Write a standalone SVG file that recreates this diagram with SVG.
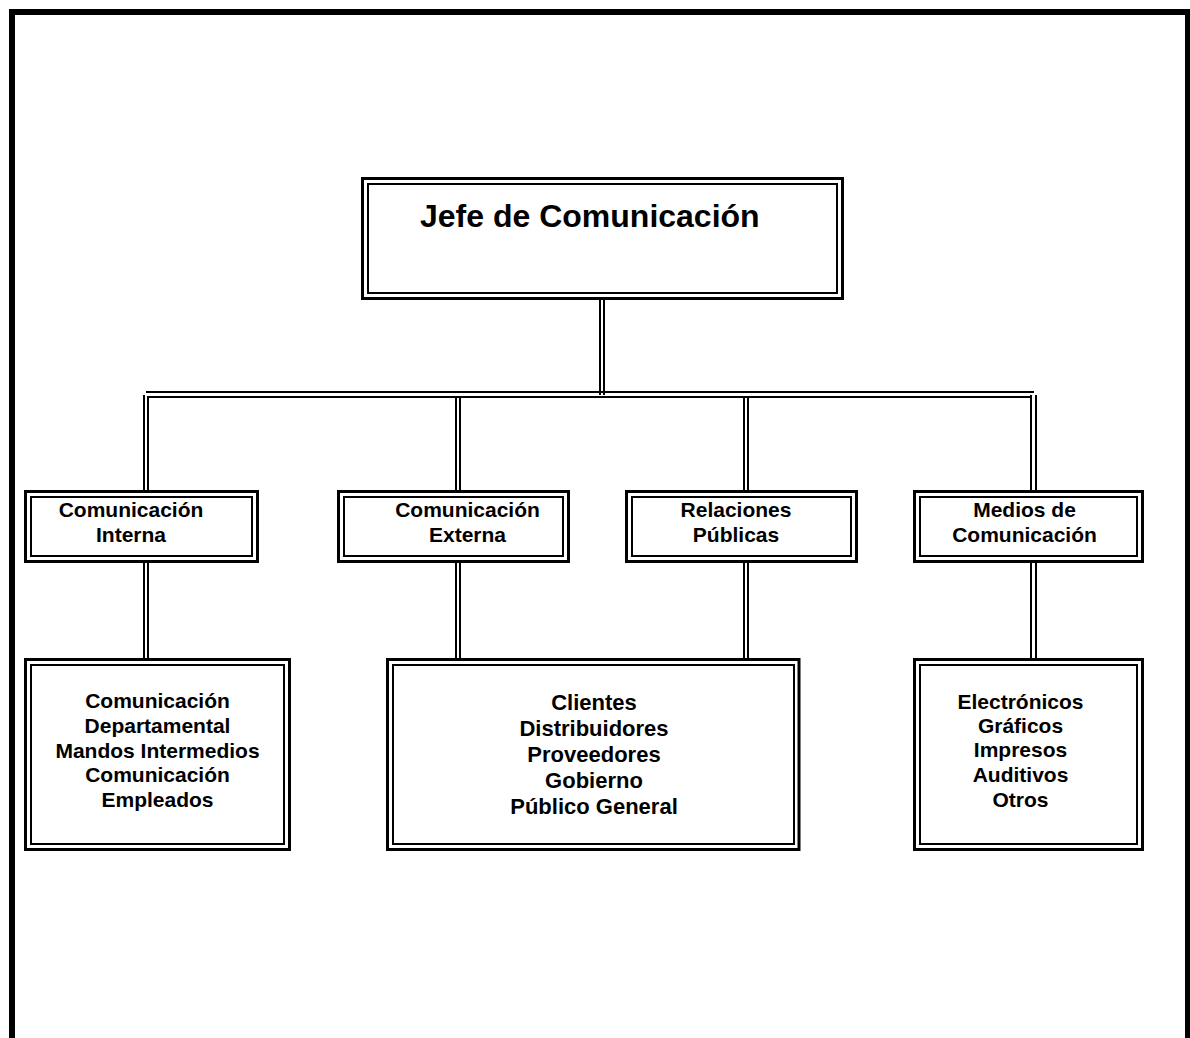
<svg xmlns="http://www.w3.org/2000/svg" width="1190" height="1038" viewBox="0 0 1190 1038">
<style>
.o{fill:none;stroke:#000;stroke-width:3}
.i{fill:none;stroke:#000;stroke-width:2}
.c line{stroke:#000;stroke-width:2}
text{font-family:"Liberation Sans",Arial,sans-serif;font-weight:bold;fill:#000;text-anchor:middle}
.s{font-size:21px}
.m{font-size:22px}
.t{font-size:32px;text-anchor:start}
</style>
<rect width="1190" height="1038" fill="#fff"/>
<path d="M12,1045 V12 H1188 V1045" fill="none" stroke="#000" stroke-width="6"/>
<g class="c" id="connectors">
<line x1="600" y1="298" x2="600" y2="395"/>
<line x1="604" y1="298" x2="604" y2="395"/>
<line x1="146" y1="392" x2="1034" y2="392"/>
<line x1="148" y1="397" x2="1031" y2="397"/>
<line x1="144" y1="395" x2="144" y2="491"/>
<line x1="148" y1="396" x2="148" y2="491"/>
<line x1="456" y1="396" x2="456" y2="491"/>
<line x1="460" y1="396" x2="460" y2="491"/>
<line x1="744" y1="396" x2="744" y2="491"/>
<line x1="748" y1="396" x2="748" y2="491"/>
<line x1="1031" y1="395" x2="1031" y2="491"/>
<line x1="1036" y1="395" x2="1036" y2="491"/>
<line x1="144" y1="562" x2="144" y2="658"/>
<line x1="148" y1="562" x2="148" y2="658"/>
<line x1="456" y1="562" x2="456" y2="658"/>
<line x1="460" y1="562" x2="460" y2="658"/>
<line x1="744" y1="562" x2="744" y2="658"/>
<line x1="748" y1="562" x2="748" y2="658"/>
<line x1="1031" y1="562" x2="1031" y2="658"/>
<line x1="1036" y1="562" x2="1036" y2="658"/>
</g>
<g id="jefe">
<rect class="o" x="362.5" y="178.5" width="480" height="120"/>
<rect class="i" x="368" y="184" width="469" height="109"/>
<text class="t" x="420" y="227">Jefe de Comunicación</text>
</g>
<g id="interna">
<rect class="o" x="25.5" y="491.5" width="232" height="70"/>
<rect class="i" x="31" y="497" width="221" height="59"/>
<text class="s" x="131" y="517">Comunicación</text>
<text class="s" x="131" y="542">Interna</text>
</g>
<g id="externa">
<rect class="o" x="338.5" y="491.5" width="230" height="70"/>
<rect class="i" x="344" y="497" width="219" height="59"/>
<text class="s" x="467.5" y="517">Comunicación</text>
<text class="s" x="467.5" y="542">Externa</text>
</g>
<g id="relaciones">
<rect class="o" x="626.5" y="491.5" width="230" height="70"/>
<rect class="i" x="632" y="497" width="219" height="59"/>
<text class="s" x="736" y="517">Relaciones</text>
<text class="s" x="736" y="542">Públicas</text>
</g>
<g id="medios">
<rect class="o" x="914.5" y="491.5" width="228" height="70"/>
<rect class="i" x="920" y="497" width="217" height="59"/>
<text class="s" x="1024.5" y="517">Medios de</text>
<text class="s" x="1024.5" y="542">Comunicación</text>
</g>
<g id="internaDetalle">
<rect class="o" x="25.5" y="659.5" width="264" height="190"/>
<rect class="i" x="31" y="665" width="253" height="179"/>
<text class="s" x="157.5" y="708">Comunicación</text>
<text class="s" x="157.5" y="733">Departamental</text>
<text class="s" x="157.5" y="757.5">Mandos Intermedios</text>
<text class="s" x="157.5" y="782">Comunicación</text>
<text class="s" x="157.5" y="807">Empleados</text>
</g>
<g id="publicos">
<rect class="o" x="387.5" y="659.5" width="411.5" height="190"/>
<rect class="i" x="393" y="665" width="401" height="179"/>
<text class="m" x="594" y="710">Clientes</text>
<text class="m" x="594" y="736">Distribuidores</text>
<text class="m" x="594" y="762">Proveedores</text>
<text class="m" x="594" y="788">Gobierno</text>
<text class="m" x="594" y="814">Público General</text>
</g>
<g id="mediosDetalle">
<rect class="o" x="914.5" y="659.5" width="228" height="190"/>
<rect class="i" x="920" y="665" width="217" height="179"/>
<text class="s" x="1020.5" y="708.5">Electrónicos</text>
<text class="s" x="1020.5" y="733">Gráficos</text>
<text class="s" x="1020.5" y="757">Impresos</text>
<text class="s" x="1020.5" y="782">Auditivos</text>
<text class="s" x="1020.5" y="806.5">Otros</text>
</g>
</svg>
